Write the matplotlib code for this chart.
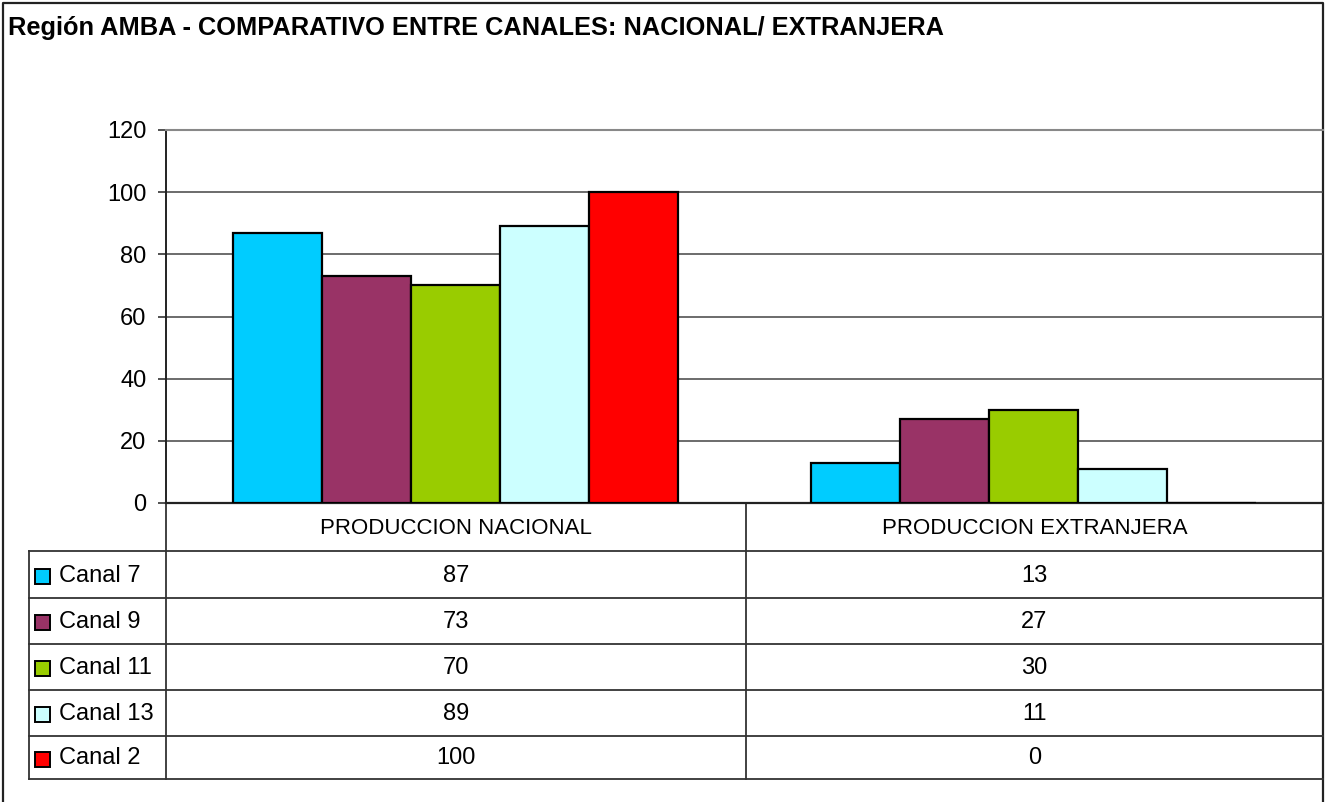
import matplotlib
matplotlib.use('Agg')
import matplotlib.pyplot as plt
from matplotlib import font_manager
import numpy as np

# Data
categories = ['PRODUCCION NACIONAL', 'PRODUCCION EXTRANJERA']
channels = ['Canal 7', 'Canal 9', 'Canal 11', 'Canal 13', 'Canal 2']
values = {
    'Canal 7': [87, 13],
    'Canal 9': [73, 27],
    'Canal 11': [70, 30],
    'Canal 13': [89, 11],
    'Canal 2': [100, 0],
}
colors = ['#00CCFF', '#993366', '#99CC00', '#CCFFFF', '#FF0000']
yticks = [0, 20, 40, 60, 80, 100, 120]
title = 'Región AMBA - COMPARATIVO ENTRE CANALES: NACIONAL/ EXTRANJERA'

names = {f.name for f in font_manager.fontManager.ttflist}
base = 'Liberation Sans' if 'Liberation Sans' in names else 'DejaVu Sans'
plt.rcParams['font.family'] = [base, 'DejaVu Sans']

W, H = 1325, 802
fig = plt.figure(figsize=(W / 100, H / 100), dpi=100)
fig.patch.set_facecolor('white')

# layout in pixels
px_left, px_right = 166, 1323
px_top, px_zero = 130, 503
ax = fig.add_axes([px_left / W, 1 - px_zero / H, (px_right - px_left) / W, (px_zero - px_top) / H])
ax.set_facecolor('none')

n = len(channels)
bw = 0.154
x = np.arange(len(categories))
for i, (ch, c) in enumerate(zip(channels, colors)):
    offs = (i - (n - 1) / 2) * bw
    ax.bar(x + offs, values[ch], width=bw, color=c, edgecolor='black', linewidth=1.6, zorder=3)

ax.set_xlim(-0.5, len(categories) - 0.5)
ax.set_ylim(0, 120)
ax.set_yticks(yticks)
ax.set_yticklabels([str(v) for v in yticks], fontsize=17)
ax.set_xticks([])
ax.tick_params(axis='y', length=6, width=1.2, color='#333333', pad=8)
ax.grid(True, axis='y', color='#444444', linewidth=1.1, zorder=0)
ax.spines['right'].set_visible(False)
ax.spines['top'].set_color('#888888')
ax.spines['top'].set_linewidth(1.5)
ax.spines['left'].set_color('#222222')
ax.spines['left'].set_linewidth(1.4)
ax.spines['bottom'].set_color('#222222')
ax.spines['bottom'].set_linewidth(1.6)

# overlay in pixel coordinates for frame and data table
ov = fig.add_axes([0, 0, 1, 1], zorder=-1)
ov.set_xlim(0, W)
ov.set_ylim(H, 0)
ov.axis('off')

lc = '#333333'
# outer frame
ov.plot([3, 3, 1323, 1323], [H, 3, 3, H], color='#222222', linewidth=1.6)

# title
ov.text(8, 28, title, fontsize=18.3, fontweight='bold', ha='left', va='center')

# table
tab_left, col_mid = 29, 746
row_lines = [551, 598, 644, 690, 736, 779]
ov.plot([px_left, px_left], [px_zero, row_lines[-1]], color=lc, linewidth=1.3)
ov.plot([col_mid, col_mid], [px_zero, row_lines[-1]], color=lc, linewidth=1.3)
ov.plot([tab_left, tab_left], [row_lines[0], row_lines[-1]], color=lc, linewidth=1.3)
for y in row_lines:
    ov.plot([tab_left, px_right], [y, y], color=lc, linewidth=1.3)

col_centers = [(px_left + col_mid) / 2, (col_mid + px_right) / 2]
for cx, cat in zip(col_centers, categories):
    ov.text(cx, (px_zero + row_lines[0]) / 2 + 1, cat, fontsize=16,
            ha='center', va='center')

for i, (ch, c) in enumerate(zip(channels, colors)):
    yc = (row_lines[i] + row_lines[i + 1]) / 2 + 1
    ov.add_patch(plt.Rectangle((35, yc - 7), 15, 15, facecolor=c, edgecolor='black', linewidth=1.4))
    ov.text(59, yc, ch, fontsize=17, ha='left', va='center')
    for cx, v in zip(col_centers, values[ch]):
        ov.text(cx, yc, str(v), fontsize=17, ha='center', va='center')

fig.savefig('out.png', dpi=100, facecolor='white')
